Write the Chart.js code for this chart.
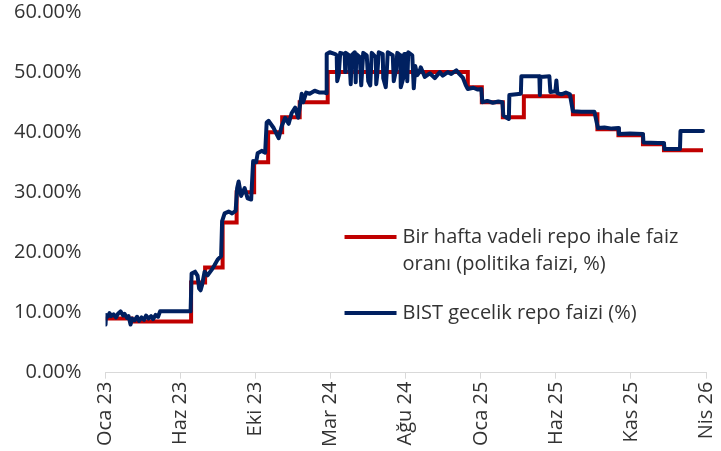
<!DOCTYPE html>
<html>
<head>
<meta charset="utf-8">
<script src="https://cdn.jsdelivr.net/npm/chart.js@4/dist/chart.umd.min.js"></script>
<style>
html,body{margin:0;padding:0;background:#ffffff;}
#wrap{width:721px;height:451px;position:relative;}
</style>
</head>
<body>
<div id="wrap"><canvas id="c" width="721" height="451"></canvas></div>
<script>
// ---- Data ----
const axisStart = '2023-01-02';
const tickStepDays = 150;
const tickCount = 9;
const monthNames = ['Oca','Şub','Mar','Nis','May','Haz','Tem','Ağu','Eyl','Eki','Kas','Ara'];
const yTicks = [0, 10, 20, 30, 40, 50, 60];

const policyLabel = ['Bir hafta vadeli repo ihale faiz', 'oranı (politika faizi, %)'];
const bistLabel = ['BIST gecelik repo faizi (%)'];

// Policy rate (step series: value valid from date)
const policyDates = ['2023-01-02','2023-02-23','2023-06-22','2023-07-20','2023-08-24','2023-09-21','2023-10-26',
  '2023-11-23','2023-12-21','2024-01-25','2024-03-21','2024-12-26','2025-01-23','2025-03-06','2025-04-17',
  '2025-07-24','2025-09-11','2025-10-23','2025-12-11','2026-01-22','2026-04-10'];
const policyValues = [9.0,8.5,15,17.5,25,30,35,
  40,42.5,45,50,47.5,45,42.5,46,
  43,40.5,39.5,38,37,37];

// BIST overnight repo rate
const bistDates = [
  // 2023
  '2023-01-02','2023-01-03','2023-01-06','2023-01-10','2023-01-13','2023-01-18','2023-01-23','2023-01-27','2023-02-01','2023-02-06',
  '2023-02-09','2023-02-14','2023-02-17','2023-02-21','2023-02-24','2023-03-01','2023-03-06','2023-03-10','2023-03-15','2023-03-20',
  '2023-03-24','2023-03-29','2023-04-03','2023-04-07','2023-04-12','2023-04-17','2023-04-21','2023-05-01','2023-06-21','2023-06-23',
  '2023-06-30','2023-07-05','2023-07-08','2023-07-11','2023-07-14','2023-07-19','2023-07-25','2023-08-02','2023-08-08','2023-08-14',
  '2023-08-21','2023-08-23','2023-08-28','2023-09-05','2023-09-12','2023-09-19','2023-09-22','2023-09-25','2023-09-30','2023-10-07',
  '2023-10-13','2023-10-20','2023-10-24','2023-10-30','2023-11-02','2023-11-10','2023-11-17','2023-11-20','2023-11-24','2023-12-04',
  '2023-12-14','2023-12-20','2023-12-27',
  // 2024 Jan-Mar
  '2024-01-03','2024-01-09','2024-01-16','2024-01-22','2024-01-29','2024-02-01','2024-02-07','2024-02-14','2024-02-24','2024-03-05',
  '2024-03-15','2024-03-18',
  // 2024 Mar-Sep (volatile)
  '2024-03-19','2024-03-25','2024-04-05','2024-04-08','2024-04-09','2024-04-12','2024-04-15','2024-04-24','2024-04-25','2024-04-26',
  '2024-05-03','2024-05-06','2024-05-08','2024-05-14','2024-05-16','2024-05-17','2024-05-24','2024-05-27','2024-05-29','2024-05-31',
  '2024-06-07','2024-06-10','2024-06-14','2024-06-17','2024-06-25','2024-06-26','2024-06-28','2024-07-01','2024-07-09','2024-07-10',
  '2024-07-15','2024-07-17','2024-07-19','2024-07-29','2024-07-31','2024-08-05','2024-08-07','2024-08-13','2024-08-14','2024-08-19',
  '2024-08-21','2024-08-26','2024-08-27','2024-08-29','2024-09-06','2024-09-09','2024-09-12','2024-09-16','2024-09-20',
  // 2024 Sep-Dec
  '2024-09-23','2024-10-01','2024-10-11','2024-10-21','2024-10-31','2024-11-06','2024-11-16','2024-11-23','2024-12-03','2024-12-09',
  '2024-12-16','2024-12-22','2024-12-26',
  // 2025-2026
  '2025-01-06','2025-01-15','2025-01-22','2025-01-24','2025-02-03','2025-02-14','2025-02-25','2025-03-05','2025-03-07','2025-03-12',
  '2025-03-18','2025-03-19','2025-04-11','2025-04-12','2025-05-18','2025-05-19','2025-05-20','2025-06-07','2025-06-09','2025-06-19',
  '2025-06-21','2025-06-23','2025-07-01','2025-07-10','2025-07-18','2025-07-24','2025-08-10','2025-09-05','2025-09-12','2025-09-25',
  '2025-10-10','2025-10-23','2025-10-24','2025-11-15','2025-12-11','2025-12-12','2026-01-10','2026-01-22','2026-01-23','2026-02-23',
  '2026-02-24','2026-04-10'];
const bistValues = [
  // 2023
  8.0,9.6,9.3,9.9,9.4,9.7,9.2,9.8,10.2,9.5,
  9.8,9.1,9.4,8.0,9.0,8.7,9.3,8.6,9.2,8.8,
  9.5,9.0,9.4,8.9,9.6,9.3,10.2,10.2,10.2,16.5,
  16.8,16.1,14.0,13.7,14.6,16.8,16.2,17.1,17.9,18.8,
  19.4,25.2,26.5,26.8,26.5,26.9,30.7,31.8,29.4,30.7,
  29.0,28.8,35.2,35.0,36.5,36.9,36.6,41.6,41.9,40.7,
  39.0,41.0,42.4,
  // 2024 Jan-Mar
  41.4,43.2,44.1,42.4,46.4,45.0,46.6,46.4,46.9,46.6,
  46.6,46.5,
  // 2024 Mar-Sep (volatile)
  53.0,53.3,53.0,52.8,48.5,49.5,53.2,53.0,50.0,53.2,
  52.8,48.0,52.8,53.3,48.3,53.0,52.5,47.8,50.5,53.2,
  52.8,48.5,47.8,53.2,52.5,48.0,49.5,53.3,53.0,49.0,
  47.5,50.0,53.3,52.8,48.5,50.5,53.2,52.8,47.5,49.0,
  53.0,53.0,48.5,53.3,52.8,47.3,51.0,49.5,50.0,
  // 2024 Sep-Dec
  50.8,49.2,49.8,49.0,50.0,49.4,50.0,49.7,50.3,49.7,
  49.1,47.8,47.2,
  // 2025-2026
  47.4,47.1,47.2,45.0,45.2,44.9,45.1,45.0,42.8,42.5,
  42.2,46.2,46.4,49.3,49.3,46.2,49.2,49.3,46.7,46.8,
  48.6,46.5,46.3,46.6,46.3,43.5,43.4,43.4,40.7,40.8,
  40.6,40.7,39.7,39.8,39.7,38.3,38.2,38.2,37.2,37.2,
  40.2,40.2];

// ---- Helpers ----
const DAY = 86400000;
const t0 = Date.parse(axisStart);
const toDay = d => (Date.parse(d) - t0) / DAY;
const tickDays = Array.from({length: tickCount}, (_, i) => i * tickStepDays);
const fmtDate = v => {
  const d = new Date(t0 + v * DAY);
  return monthNames[d.getUTCMonth()] + ' ' + String(d.getUTCFullYear() % 100).padStart(2, '0');
};
const policyPoints = policyDates.map((d, i) => ({x: toDay(d), y: policyValues[i]}));
const bistPoints = bistDates.map((d, i) => ({x: toDay(d), y: bistValues[i]}));

const FONT = "'Open Sans'";
const TEXT = '#333333';
const RED = '#C00000';
const BLUE = '#002060';
const Y_PAD = 24;

const legendPlugin = {
  id: 'customLegend',
  afterDraw(chart) {
    const {ctx, chartArea: a} = chart;
    ctx.save();
    ctx.font = '20px ' + FONT;
    ctx.fillStyle = TEXT;
    ctx.textBaseline = 'middle';
    ctx.textAlign = 'left';
    const x0 = a.left + 239, x1 = a.left + 291, tx = a.left + 297;
    const entries = [
      {color: RED, lines: policyLabel, y: a.top + 225},
      {color: BLUE, lines: bistLabel, y: a.top + 301}
    ];
    entries.forEach(e => {
      ctx.strokeStyle = e.color;
      ctx.lineWidth = 4;
      ctx.lineCap = 'butt';
      ctx.beginPath();
      ctx.moveTo(x0, e.y);
      ctx.lineTo(x1, e.y);
      ctx.stroke();
      e.lines.forEach((t, i) => ctx.fillText(t, tx, e.y + i * 27));
    });
    ctx.restore();
  }
};

new Chart(document.getElementById('c'), {
  type: 'line',
  data: {
    datasets: [
      {label: bistLabel.join(' '), data: bistPoints, borderColor: BLUE, borderWidth: 4,
       pointRadius: 0, tension: 0, order: 0, borderJoinStyle: 'round', borderCapStyle: 'round'},
      {label: policyLabel.join(' '), data: policyPoints, borderColor: RED, borderWidth: 4,
       pointRadius: 0, stepped: 'before', order: 1}
    ]
  },
  options: {
    responsive: false,
    animation: false,
    devicePixelRatio: 1,
    layout: {padding: {left: 14, right: 15, top: 12, bottom: 1}},
    plugins: {legend: {display: false}, tooltip: {enabled: false}},
    scales: {
      x: {
        type: 'linear', min: 0, max: tickDays[tickDays.length - 1],
        afterBuildTicks: s => { s.ticks = tickDays.map(v => ({value: v})); },
        afterFit: s => { s.paddingLeft = 0; s.paddingRight = 0; },
        grid: {display: true, drawOnChartArea: false, drawTicks: true, tickLength: 6, color: '#D9D9D9', lineWidth: 1},
        border: {display: true, color: '#D9D9D9', width: 1},
        ticks: {minRotation: 90, maxRotation: 90, autoSkip: false, padding: 3, color: TEXT,
                font: {family: FONT, size: 20}, callback: v => fmtDate(v)}
      },
      y: {
        min: yTicks[0], max: yTicks[yTicks.length - 1],
        afterBuildTicks: s => { s.ticks = yTicks.map(v => ({value: v})); },
        afterFit: s => { s.paddingTop = 0; s.paddingBottom = 0; s.width -= Y_PAD; },
        grid: {display: false, drawTicks: false},
        border: {display: false},
        ticks: {padding: Y_PAD, color: TEXT, font: {family: FONT, size: 20}, callback: v => v.toFixed(2) + '%'}
      }
    }
  },
  plugins: [legendPlugin]
});
</script>
</body>
</html>
